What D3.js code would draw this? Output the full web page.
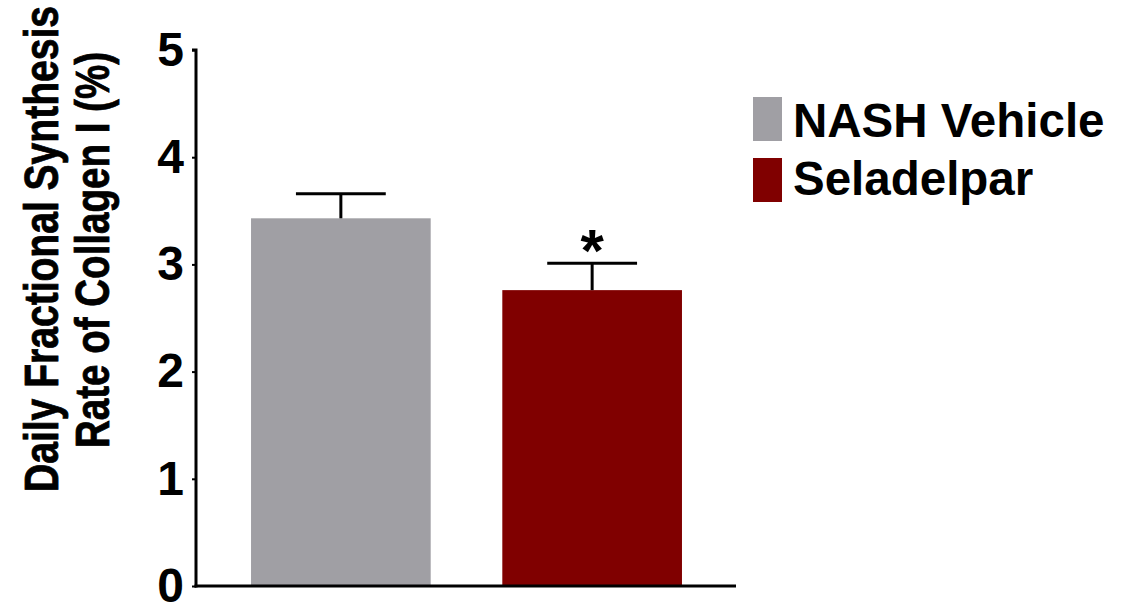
<!DOCTYPE html>
<html>
<head>
<meta charset="utf-8">
<script src="https://cdn.jsdelivr.net/npm/d3@7/dist/d3.min.js"></script>
<style>
  html, body { margin: 0; padding: 0; background: #fff; }
  svg text { font-family: "Liberation Sans", Arial, sans-serif; font-weight: bold; fill: #000; }
</style>
</head>
<body>
<svg id="chart" width="1139" height="610"></svg>
<script>
// Group names, mean values and upper error (mean + SEM)
const groups = ["NASH Vehicle", "Seladelpar"];
const means = [3.43, 2.76];
const errorTops = [3.66, 3.01];
const significance = ["", "*"];
const colors = ["#a09fa4", "#800000"];
const yTicks = [0, 1, 2, 3, 4, 5];
const yTitleLines = ["Daily Fractional Synthesis", "Rate of Collagen I (%)"];

const svg = d3.select("#chart");

const x = d3.scaleBand()
  .domain(groups)
  .range([197, 736])
  .paddingInner(0.285)
  .paddingOuter(0.215);

const y = d3.scaleLinear()
  .domain([0, 5])
  .range([586, 50]);

// Bars
svg.append("g").selectAll("rect")
  .data(groups)
  .join("rect")
  .attr("x", d => x(d))
  .attr("y", (d, i) => y(means[i]))
  .attr("width", x.bandwidth())
  .attr("height", (d, i) => y(0) - y(means[i]))
  .attr("fill", (d, i) => colors[i]);

// Error bars (upper only)
const eb = svg.append("g").attr("stroke", "#000").attr("stroke-width", 3);
groups.forEach((g, i) => {
  const cx = x(g) + x.bandwidth() / 2;
  const capHalf = x.bandwidth() / 4;
  eb.append("line")
    .attr("x1", cx).attr("x2", cx)
    .attr("y1", y(means[i])).attr("y2", y(errorTops[i]));
  eb.append("line")
    .attr("x1", cx - capHalf).attr("x2", cx + capHalf)
    .attr("y1", y(errorTops[i])).attr("y2", y(errorTops[i]));
});

// Significance marks
svg.append("g").selectAll("text")
  .data(groups)
  .join("text")
  .attr("x", d => x(d) + x.bandwidth() / 2)
  .attr("y", (d, i) => y(errorTops[i]) + 8)
  .attr("text-anchor", "middle")
  .style("font-size", "60px")
  .text((d, i) => significance[i]);

// Y axis
const yAxis = svg.append("g")
  .attr("transform", "translate(196,0)")
  .call(d3.axisLeft(y).tickValues(yTicks).tickFormat(d3.format("d")).tickSize(4).tickPadding(8));
yAxis.select(".domain").attr("stroke-width", 3).attr("d", `M-4,${y(5)}H0V${y(0) + 1.5}`);
yAxis.selectAll(".tick line").attr("stroke-width", 2);
yAxis.selectAll(".tick text")
  .style("font-size", "48px")
  .style("font-family", '"Liberation Sans", Arial, sans-serif')
  .style("font-weight", "bold")
  .attr("fill", "#000");

// X axis baseline
svg.append("line")
  .attr("x1", 194.5).attr("x2", 736)
  .attr("y1", y(0)).attr("y2", y(0))
  .attr("stroke", "#000").attr("stroke-width", 3);

// Y axis title, two condensed lines
const titleLengths = [486, 396];
const titleCenters = [249, 250];
svg.append("g").selectAll("text")
  .data(yTitleLines)
  .join("text")
  .attr("transform", (d, i) => `translate(${58 + i * 51},${titleCenters[i]}) rotate(-90)`)
  .attr("text-anchor", "middle")
  .attr("textLength", (d, i) => titleLengths[i])
  .attr("lengthAdjust", "spacingAndGlyphs")
  .attr("stroke", "#000")
  .attr("stroke-width", 0.8)
  .style("font-size", "48px")
  .text(d => d);

// Legend
const legend = svg.append("g").selectAll("g")
  .data(groups)
  .join("g")
  .attr("transform", (d, i) => `translate(753,${97 + i * 61})`);
legend.append("rect")
  .attr("width", 29).attr("height", 44)
  .attr("fill", (d, i) => colors[i]);
legend.append("text")
  .attr("x", 40).attr("y", (d, i) => 40 - i * 3)
  .style("font-size", "47.5px")
  .text(d => d);
</script>
</body>
</html>
